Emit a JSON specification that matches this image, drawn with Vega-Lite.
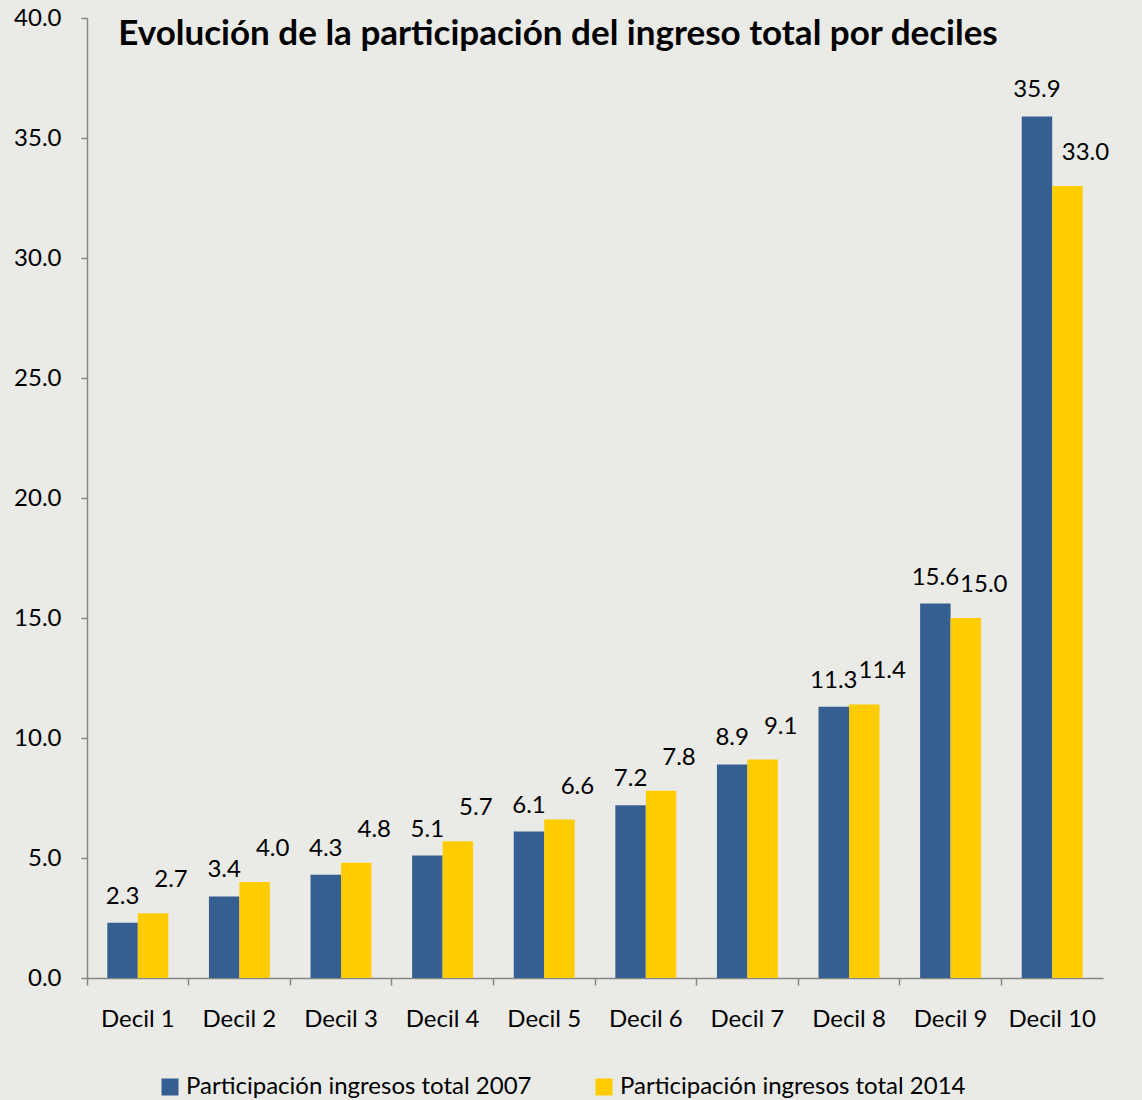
{
  "$schema": "https://vega.github.io/schema/vega-lite/v6.json",
  "width": 1016,
  "height": 960,
  "autosize": {"type": "none"},
  "padding": {"left": 87, "top": 18, "right": 39, "bottom": 122},
  "background": "#EAEAE7",
  "title": {
    "text": "Evolución de la participación del ingreso total por deciles",
    "font": "Lato",
    "fontSize": 35,
    "fontWeight": "bold",
    "color": "#000000",
    "anchor": "middle",
    "baseline": "alphabetic",
    "offset": -24,
    "dy": 50,
    "dx": -37
  },
  "config": {
    "view": {"stroke": null},
    "font": "Lato",
    "axis": {"labelFont": "Lato", "labelFontSize": 24, "labelColor": "#000000", "domainColor": "#868686", "tickColor": "#868686", "grid": false, "title": null},
    "legend": {"labelFont": "Lato", "labelFontSize": 24, "labelColor": "#000000", "labelLimit": 0}
  },
  "data": {
    "values": [
      {"decil": "Decil 1", "serie": "Participación ingresos total 2007", "valor": 2.3},
      {"decil": "Decil 1", "serie": "Participación ingresos total 2014", "valor": 2.7},
      {"decil": "Decil 2", "serie": "Participación ingresos total 2007", "valor": 3.4},
      {"decil": "Decil 2", "serie": "Participación ingresos total 2014", "valor": 4.0},
      {"decil": "Decil 3", "serie": "Participación ingresos total 2007", "valor": 4.3},
      {"decil": "Decil 3", "serie": "Participación ingresos total 2014", "valor": 4.8},
      {"decil": "Decil 4", "serie": "Participación ingresos total 2007", "valor": 5.1},
      {"decil": "Decil 4", "serie": "Participación ingresos total 2014", "valor": 5.7},
      {"decil": "Decil 5", "serie": "Participación ingresos total 2007", "valor": 6.1},
      {"decil": "Decil 5", "serie": "Participación ingresos total 2014", "valor": 6.6},
      {"decil": "Decil 6", "serie": "Participación ingresos total 2007", "valor": 7.2},
      {"decil": "Decil 6", "serie": "Participación ingresos total 2014", "valor": 7.8},
      {"decil": "Decil 7", "serie": "Participación ingresos total 2007", "valor": 8.9},
      {"decil": "Decil 7", "serie": "Participación ingresos total 2014", "valor": 9.1},
      {"decil": "Decil 8", "serie": "Participación ingresos total 2007", "valor": 11.3},
      {"decil": "Decil 8", "serie": "Participación ingresos total 2014", "valor": 11.4},
      {"decil": "Decil 9", "serie": "Participación ingresos total 2007", "valor": 15.6},
      {"decil": "Decil 9", "serie": "Participación ingresos total 2014", "valor": 15.0},
      {"decil": "Decil 10", "serie": "Participación ingresos total 2007", "valor": 35.9},
      {"decil": "Decil 10", "serie": "Participación ingresos total 2014", "valor": 33.0}
    ]
  },
  "encoding": {
    "x": {
      "field": "decil", "type": "nominal", "sort": null,
      "scale": {"paddingInner": 0, "paddingOuter": 0},
      "axis": {"labelAngle": 0, "tickSize": 7, "bandPosition": 0, "labelPadding": 22, "domainWidth": 1.5, "tickWidth": 1.5}
    },
    "y": {
      "field": "valor", "type": "quantitative",
      "scale": {"domain": [0, 40], "nice": false},
      "axis": {"values": [0, 5, 10, 15, 20, 25, 30, 35, 40], "format": ".1f", "tickSize": 6, "labelPadding": 20, "domainWidth": 1.5, "tickWidth": 1.5}
    },
    "xOffset": {"field": "serie", "type": "nominal", "scale": {"paddingInner": 0, "paddingOuter": 0.667}}
  },
  "layer": [
    {
      "mark": {"type": "bar", "strokeWidth": 1},
      "encoding": {
        "color": {
          "field": "serie", "type": "nominal",
          "scale": {"range": ["#365F91", "#FFCC00"]},
          "legend": {
            "title": null, "orient": "none", "legendX": 71, "legendY": 1057,
            "direction": "horizontal", "columns": 2, "columnPadding": 60,
            "symbolType": "square", "symbolSize": 289, "symbolStrokeWidth": 0, "labelOffset": 4
          }
        }
      }
    },
    {
      "transform": [{"filter": "datum.serie === 'Participación ingresos total 2007'"}],
      "mark": {"type": "text", "fontSize": 24, "baseline": "middle", "dy": -26, "color": "#000000"},
      "encoding": {"text": {"field": "valor", "type": "quantitative", "format": ".1f"}}
    },
    {
      "transform": [{"filter": "datum.serie === 'Participación ingresos total 2014'"}],
      "mark": {"type": "text", "fontSize": 24, "baseline": "middle", "dy": -33, "dx": 18, "color": "#000000"},
      "encoding": {"text": {"field": "valor", "type": "quantitative", "format": ".1f"}}
    }
  ]
}
